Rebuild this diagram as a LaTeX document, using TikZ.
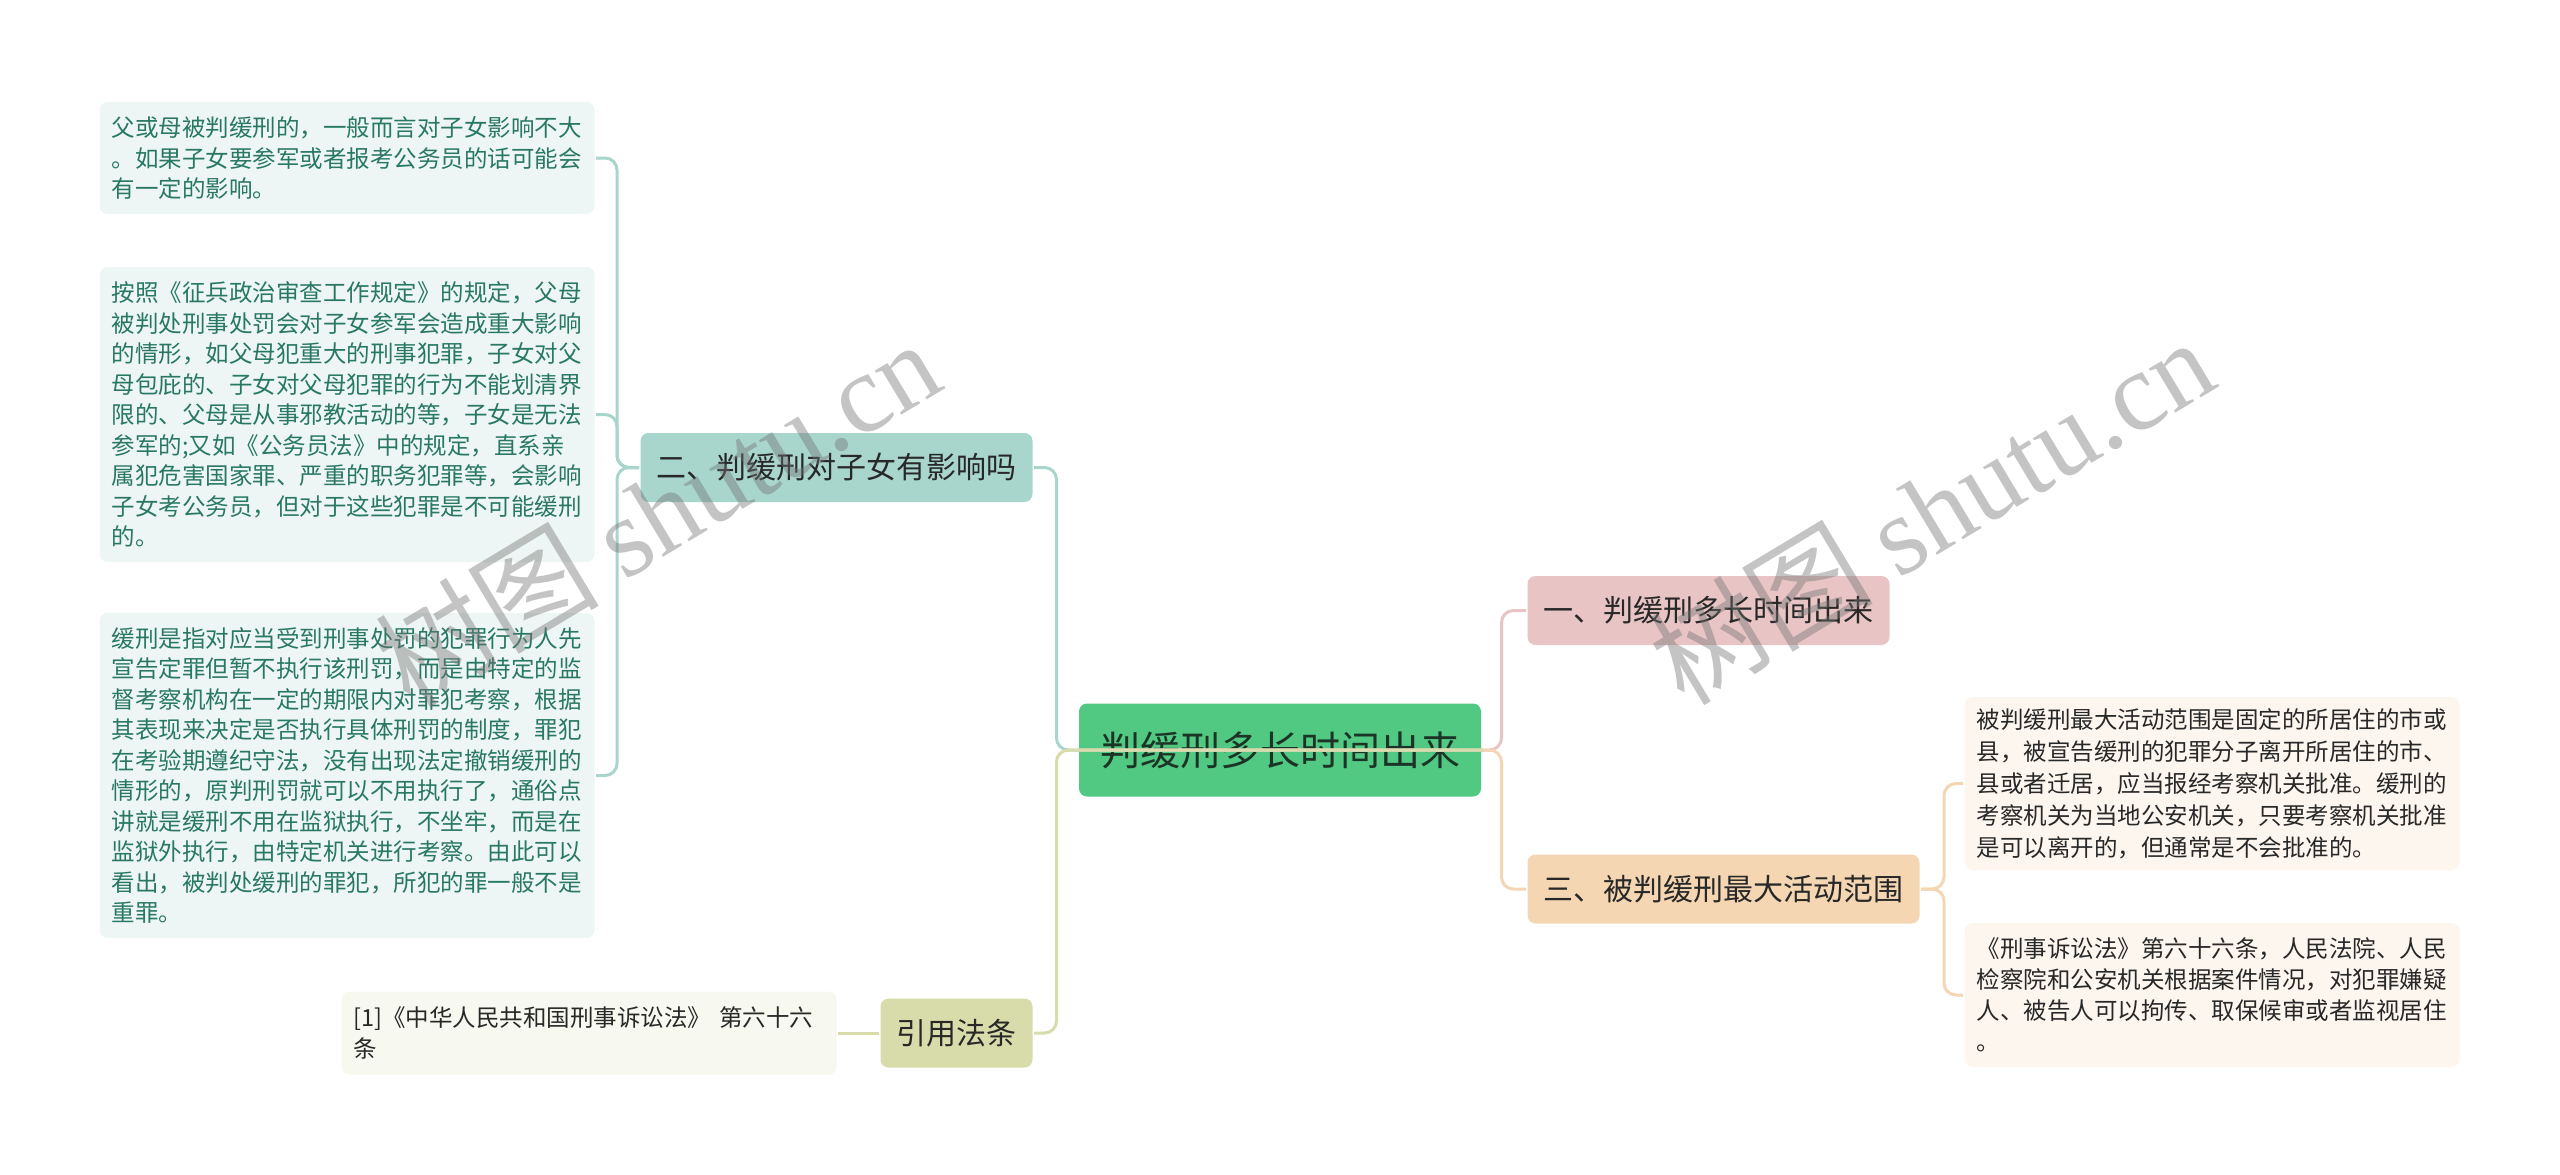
\documentclass[tikz,border=0pt]{standalone}
\usepackage{fontspec}
\setmainfont{Noto Sans CJK SC}
\newfontfamily\wmlatin{Liberation Serif}
\usepackage{tikz}

\definecolor{rootgreen}{RGB}{82,201,130}
\definecolor{roottext}{RGB}{28,52,38}
\definecolor{pinkbox}{RGB}{232,196,196}
\definecolor{tealbox}{RGB}{168,213,204}
\definecolor{peachbox}{RGB}{244,214,178}
\definecolor{olivebox}{RGB}{216,220,170}
\definecolor{tealleaf}{RGB}{238,246,245}
\definecolor{tealtext}{RGB}{40,120,100}
\definecolor{peachleaf}{RGB}{253,246,238}
\definecolor{oliveleaf}{RGB}{247,248,240}
\definecolor{darktext}{RGB}{40,40,40}

\begin{document}
\begin{tikzpicture}[
            x = 1pt, y = -1pt, % one unit = one pixel, y downwards
            line width = 3pt,
            rounded corners = 12pt,
            topic/.style = {
                rounded corners = 8pt,
                inner xsep = 16pt,
                minimum height = 69pt,
                text = darktext,
                font = \fontsize{30}{36}\selectfont
            },
            leaf/.style = {
                rounded corners = 8pt,
                inner xsep = 12pt,
                text width = 471pt,
                align = left
            }
        ]

        \tikzstyle{watermark}=[
            text = black!55,
            text opacity = 0.42,
            rotate = 31,
            font = \fontsize{112}{112}\selectfont
        ]

        \useasboundingbox (0,0) rectangle (2560,1175);

        \node[rounded corners=8pt, fill=rootgreen, text=roottext,
              minimum width=402pt, minimum height=93pt,
              font=\fontsize{40}{48}\selectfont] (root) at (1280,750) {判缓刑多长时间出来};

        \node[topic, fill=pinkbox,  anchor=west] (one)   at (1526,610.5) {一、判缓刑多长时间出来};
        \node[topic, fill=peachbox, anchor=west] (three) at (1526,889)   {三、被判缓刑最大活动范围};
        \node[topic, fill=tealbox,  anchor=east] (two)   at (1034,467.5) {二、判缓刑对子女有影响吗};
        \node[topic, fill=olivebox, anchor=east] (cite)  at (1034,1033)  {引用法条};

        % leaves of two
        \node[leaf, fill=tealleaf, text=tealtext, anchor=east, minimum height=112pt,
              font=\fontsize{23.5}{30.5}\selectfont] (twoA) at (596,158) {%
            父或母被判缓刑的，一般而言对子女影响不大\\
            。如果子女要参军或者报考公务员的话可能会\\
            有一定的影响。};
        \node[leaf, fill=tealleaf, text=tealtext, anchor=east, minimum height=295pt,
              font=\fontsize{23.5}{30.5}\selectfont] (twoB) at (596,414.5) {%
            按照《征兵政治审查工作规定》的规定，父母\\
            被判处刑事处罚会对子女参军会造成重大影响\\
            的情形，如父母犯重大的刑事犯罪，子女对父\\
            母包庇的、子女对父母犯罪的行为不能划清界\\
            限的、父母是从事邪教活动的等，子女是无法\\
            参军的;又如《公务员法》中的规定，直系亲\\
            属犯危害国家罪、严重的职务犯罪等，会影响\\
            子女考公务员，但对于这些犯罪是不可能缓刑\\
            的。};
        \node[leaf, fill=tealleaf, text=tealtext, anchor=east, minimum height=325pt,
              font=\fontsize{23.5}{30.5}\selectfont] (twoC) at (596,775.5) {%
            缓刑是指对应当受到刑事处罚的犯罪行为人先\\
            宣告定罪但暂不执行该刑罚，而是由特定的监\\
            督考察机构在一定的期限内对罪犯考察，根据\\
            其表现来决定是否执行具体刑罚的制度，罪犯\\
            在考验期遵纪守法，没有出现法定撤销缓刑的\\
            情形的，原判刑罚就可以不用执行了，通俗点\\
            讲就是缓刑不用在监狱执行，不坐牢，而是在\\
            监狱外执行，由特定机关进行考察。由此可以\\
            看出，被判处缓刑的罪犯，所犯的罪一般不是\\
            重罪。};

        % leaf of cite
        \node[leaf, fill=oliveleaf, text=darktext, anchor=east, minimum height=83pt,
              font=\fontsize{23.5}{31}\selectfont] (citeA) at (838,1033) {%
            [1]《中华人民共和国刑事诉讼法》 第六十六\\
            条};

        % leaves of three
        \node[leaf, fill=peachleaf, text=darktext, anchor=west, minimum height=173pt,
              font=\fontsize{23.5}{32}\selectfont] (threeA) at (1963,783.5) {%
            被判缓刑最大活动范围是固定的所居住的市或\\
            县，被宣告缓刑的犯罪分子离开所居住的市、\\
            县或者迁居，应当报经考察机关批准。缓刑的\\
            考察机关为当地公安机关，只要考察机关批准\\
            是可以离开的，但通常是不会批准的。};
        \node[leaf, fill=peachleaf, text=darktext, anchor=west, minimum height=144pt,
              font=\fontsize{23.5}{31}\selectfont] (threeB) at (1963,995) {%
            《刑事诉讼法》第六十六条，人民法院、人民\\
            检察院和公安机关根据案件情况，对犯罪嫌疑\\
            人、被告人可以拘传、取保候审或者监视居住\\
            。};

        % connectors
        \draw[pinkbox]  (root.west) -- ++(424,0) |- (one.west);
        \draw[peachbox] (root.west) -- ++(424,0) |- (three.west);
        \draw[tealbox]  (root.east) -- ++(-426,0) |- (two.east);
        \draw[olivebox] (root.east) -- ++(-426,0) |- (cite.east);

        \draw[tealbox] (two.west) -- ++(-22,0) |- (twoA.east);
        \draw[tealbox] (two.west) -- ++(-22,0) |- (twoB.east);
        \draw[tealbox] (two.west) -- ++(-22,0) |- (twoC.east);

        \draw[olivebox] (cite.west) -- (citeA.east);

        \draw[peachbox] (three.east) -- ++(23,0) |- (threeA.west);
        \draw[peachbox] (three.east) -- ++(23,0) |- (threeB.west);

        \node[watermark] (markL) at (657,512)  {树图 {\wmlatin shutu.cn}};
        \node[watermark] (markR) at (1931,510) {树图 {\wmlatin shutu.cn}};
    \end{tikzpicture}
\end{document}
